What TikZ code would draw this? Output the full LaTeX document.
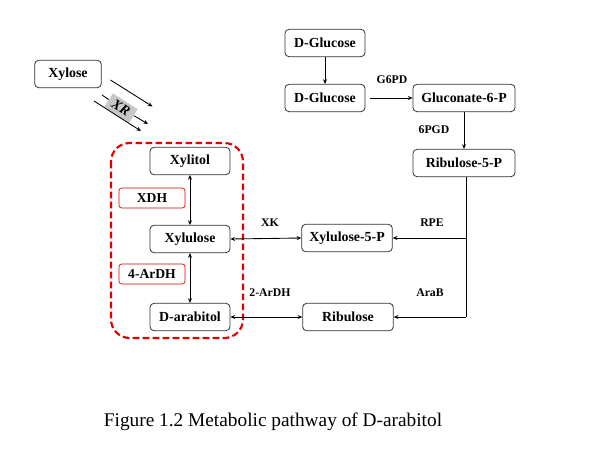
\documentclass[tikz,border=0pt]{standalone}
\usepackage{fontspec}
\setmainfont{Liberation Serif}
\usetikzlibrary{arrows.meta,positioning,calc}
\begin{document}
\begin{tikzpicture}[x=0.75pt,y=-0.75pt,
  box/.style={draw=black!80,rounded corners=3pt,fill=white,inner sep=0pt,
    minimum height=20.5pt,font=\fontsize{10.4}{12}\selectfont\bfseries,line width=0.6pt},
  enz/.style={font=\fontsize{8.8}{10}\selectfont\bfseries,inner sep=1pt},
  redbox/.style={draw=red!85!black,rounded corners=2pt,fill=white,inner sep=0pt,
    minimum width=49.5pt,minimum height=15pt,font=\fontsize{10.2}{12}\selectfont\bfseries,line width=0.5pt},
  arr/.style={-{Stealth[length=3.5pt,width=3pt]},line width=0.65pt},
  darr/.style={{Stealth[length=3.5pt,width=3pt]}-{Stealth[length=3.5pt,width=3pt]},line width=0.65pt},
  ln/.style={line width=0.65pt}
]
\useasboundingbox (0,0) rectangle (593,451);
\fill[white] (0,0) rectangle (593,451);

% dashed red region
\draw[red!90!black,line width=1.6pt,rounded corners=14pt,dash pattern=on 5pt off 2.5pt]
  (111,143) rectangle (243,338);

% nodes
\node[box,minimum width=50pt] (xylose) at (68,74) {Xylose};
\node[box,minimum width=60pt] (glc1) at (325,43) {D-Glucose};
\node[box,minimum width=60pt] (glc2) at (325,98) {D-Glucose};
\node[box,minimum width=76.5pt] (gluc6p) at (464,98) {Gluconate-6-P};
\node[box,minimum width=76.5pt] (rib5p) at (464,163) {Ribulose-5-P};
\node[box,minimum width=60pt] (xylitol) at (190,161) {Xylitol};
\node[box,minimum width=60pt] (xylulose) at (190,239) {Xylulose};
\node[box,minimum width=60pt] (darab) at (190,317) {D-arabitol};
\node[box,minimum width=68pt] (xyl5p) at (347,238) {Xylulose-5-P};
\node[box,minimum width=68pt] (ribulose) at (348,317) {Ribulose};

\node[redbox] (xdh) at (152,198) {XDH};
\node[redbox] (ardh4) at (152,274) {4-ArDH};

% enzyme labels
\node[enz] (g6pd) at (392,80) {G6PD};
\node[enz] (pgd) at (434,130) {6PGD};
\node[enz] (xk) at (270,223) {XK};
\node[enz] (rpe) at (432,223) {RPE};
\node[enz] (ardh2) at (270,293) {2-ArDH};
\node[enz] (arab) at (430,293) {AraB};

% connectors
\draw[arr] (glc1) -- (glc2);
\draw[arr] ($(glc2.east)+(5,0)$) coordinate (g6s) -- (gluc6p.west);
\draw[arr] (gluc6p) -- (rib5p);
\coordinate (corner) at ([xshift=1.5pt]rib5p.south |- ribulose.east);
\draw[ln] ([xshift=1.5pt]rib5p.south) -- (corner);
\draw[arr] (corner) -- (ribulose.east);
\draw[arr] ([xshift=1.5pt]rib5p.south |- xyl5p.east) -- (xyl5p.east);
\draw[darr] (xylulose.east) -- (xyl5p.west);
\draw[darr] (darab.east) -- (ribulose.west);
\draw[darr] (xylitol) -- (xylulose);
\draw[darr] (xylulose) -- (darab);

% XR arrows
\node[fill=black!22,rotate=-32.5,minimum width=22pt,minimum height=12pt,inner sep=0pt,
  font=\fontsize{10.5}{12}\selectfont\bfseries\itshape] (xr) at (121,108) {XR};
\coordinate (xa1) at (110.5,80);
\coordinate (xa2) at (152.5,106.5);
\coordinate (xb1) at (102,95);
\coordinate (xb2) at (148,124);
\coordinate (xc1) at (94,101);
\coordinate (xc2) at (141,131);
\draw[arr] (xa1) -- (xa2);
\draw[ln] (xb1) -- (xr);
\draw[arr] (xr) -- (xb2);
\draw[arr] (xc1) -- (xc2);

% caption
\node[font=\fontsize{14.5}{17}\selectfont] (cap) at (273,422) {Figure 1.2 Metabolic pathway of D-arabitol};
\end{tikzpicture}
\end{document}
